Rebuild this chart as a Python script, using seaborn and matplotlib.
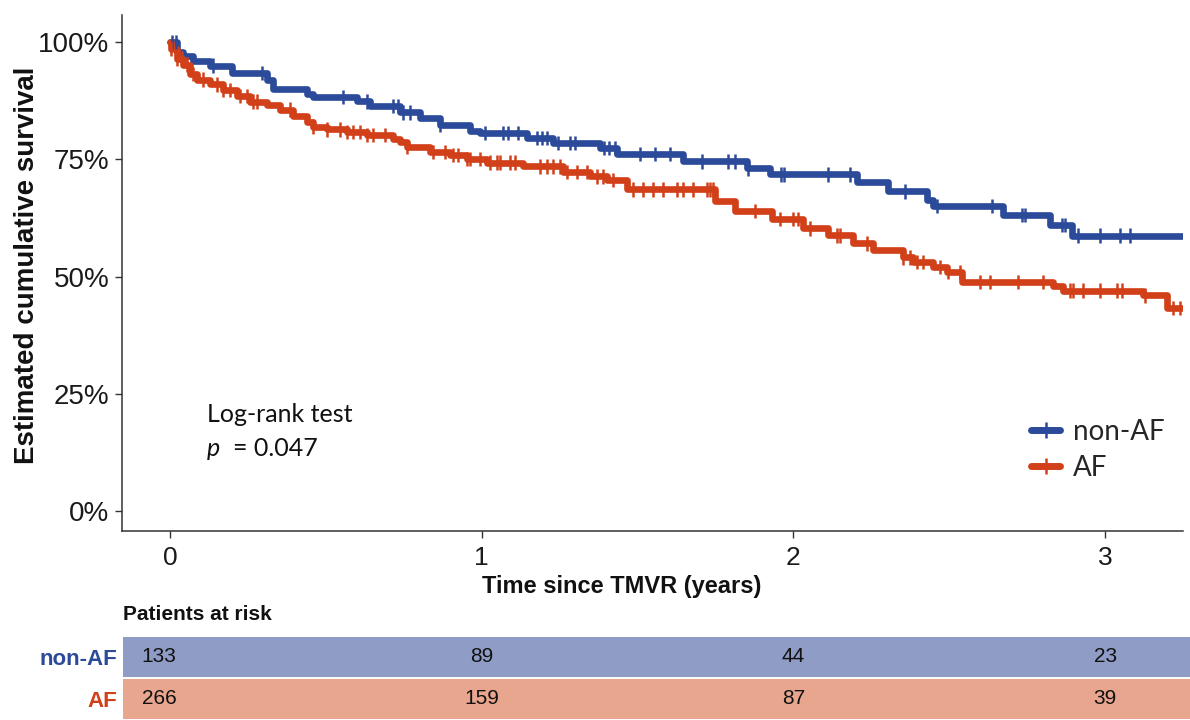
import numpy as np
import pandas as pd
import matplotlib
matplotlib.use("Agg")
import matplotlib.pyplot as plt
import seaborn as sns
from matplotlib.lines import Line2D
from matplotlib import font_manager as fm
from matplotlib.transforms import offset_copy

# ---------------- data ----------------
groups = ["non-AF", "AF"]

nonaf_times = [0.0, 0.022, 0.042, 0.074, 0.128, 0.199, 0.311, 0.330, 0.440, 0.459,
               0.600, 0.642, 0.738, 0.802, 0.866, 0.962, 0.995, 1.145, 1.229, 1.380,
               1.434, 1.646, 1.851, 1.925, 2.204, 2.303, 2.429, 2.448, 2.672, 2.823, 2.894]
nonaf_surv = [100.0, 98.0, 97.0, 96.0, 95.0, 93.4, 92.0, 90.0, 89.0, 88.3,
              87.4, 86.4, 85.0, 83.8, 82.3, 81.0, 80.6, 79.6, 78.5, 77.4,
              76.1, 74.6, 73.1, 71.8, 70.1, 68.2, 66.3, 65.0, 63.1, 61.0, 58.7]

af_times = [0.0, 0.003, 0.022, 0.042, 0.064, 0.087, 0.128, 0.170, 0.215, 0.257,
            0.311, 0.353, 0.395, 0.440, 0.459, 0.504, 0.568, 0.632, 0.715, 0.738,
            0.760, 0.834, 0.898, 0.953, 1.017, 1.133, 1.261, 1.347, 1.402, 1.466,
            1.748, 1.813, 1.931, 2.031, 2.111, 2.191, 2.255, 2.352, 2.384, 2.448,
            2.493, 2.541, 2.833, 2.865, 3.122, 3.199]
af_surv = [100.0, 98.5, 96.5, 95.2, 93.2, 92.0, 91.0, 89.8, 88.5, 87.3,
           86.6, 85.6, 84.3, 83.0, 82.0, 81.4, 80.8, 80.2, 79.3, 78.7,
           77.6, 76.6, 75.9, 75.1, 74.3, 73.5, 72.3, 71.4, 70.6, 68.6,
           66.1, 64.0, 62.3, 60.3, 58.8, 57.1, 55.7, 54.1, 53.1, 52.0,
           51.0, 48.8, 48.0, 47.0, 46.0, 43.3]

nonaf_censor = [0.006, 0.019, 0.138, 0.295, 0.555, 0.632, 0.715, 0.731, 0.748, 0.770,
                0.866, 1.011, 1.068, 1.084, 1.116, 1.177, 1.193, 1.209, 1.245, 1.283,
                1.299, 1.392, 1.408, 1.428, 1.508, 1.556, 1.604, 1.707, 1.790, 1.813,
                1.854, 1.960, 1.970, 2.111, 2.182, 2.358, 2.461, 2.637, 2.733, 2.743,
                2.862, 2.871, 2.913, 2.984, 3.048, 3.080]
af_censor = [0.003, 0.022, 0.038, 0.055, 0.074, 0.106, 0.151, 0.170, 0.193, 0.225,
             0.247, 0.266, 0.279, 0.385, 0.459, 0.504, 0.545, 0.568, 0.587, 0.610,
             0.632, 0.651, 0.690, 0.760, 0.844, 0.882, 0.908, 0.924, 0.953, 0.963,
             0.995, 1.027, 1.049, 1.059, 1.091, 1.107, 1.187, 1.210, 1.229, 1.251,
             1.274, 1.306, 1.338, 1.370, 1.389, 1.421, 1.485, 1.517, 1.550, 1.582,
             1.627, 1.646, 1.678, 1.723, 1.732, 1.742, 1.877, 1.957, 1.999, 2.015,
             2.053, 2.140, 2.150, 2.236, 2.352, 2.374, 2.397, 2.416, 2.470, 2.496,
             2.535, 2.599, 2.631, 2.721, 2.801, 2.887, 2.897, 2.929, 2.984, 3.038,
             3.054, 3.128, 3.218, 3.240]

t_end = 3.25
risk_times = [0, 1, 2, 3]
risk_nonaf = [133, 89, 44, 23]
risk_af = [266, 159, 87, 39]
x_ticks = [0, 1, 2, 3]
y_ticks = [0, 25, 50, 75, 100]
y_ticklabels = ["0%", "25%", "50%", "75%", "100%"]

colors = {"non-AF": "#2C4A9A", "AF": "#D2401A"}
band_colors = {"non-AF": "#8F9CC6", "AF": "#E8A68E"}

# ---------------- fonts ----------------
sns.set_theme(style="white")
avail = {f.name for f in fm.fontManager.ttflist}
arial = "Liberation Sans"
narrow = "Liberation Sans Narrow" if "Liberation Sans Narrow" in avail else "Liberation Sans"
calib = "Lato" if "Lato" in avail else "DejaVu Sans"
plt.rcParams["font.family"] = [arial, "DejaVu Sans"]

# ---------------- frames ----------------
series = {"non-AF": (nonaf_times, nonaf_surv, nonaf_censor),
          "AF": (af_times, af_surv, af_censor)}
rows, crow = [], []
for g, (t, s, c) in series.items():
    tt = list(t) + [t_end]
    ss = list(s) + [s[-1]]
    for a, b in zip(tt, ss):
        rows.append({"time": a, "surv": b, "group": g})
    ta = np.asarray(t)
    for ct in c:
        idx = np.searchsorted(ta, ct, side="right") - 1
        crow.append({"time": ct, "surv": s[idx], "group": g})
df = pd.DataFrame(rows)
cdf = pd.DataFrame(crow)

W, H = 1190, 720
fig = plt.figure(figsize=(W / 100, H / 100), dpi=100)
ax = fig.add_axes([122 / W, 1 - 531 / H, (1183 - 122) / W, (531 - 15) / H])

sns.lineplot(data=df, x="time", y="surv", hue="group", hue_order=groups,
             palette=colors, estimator=None, sort=False, drawstyle="steps-post",
             linewidth=4.8, legend=False, ax=ax, zorder=2)
sns.scatterplot(data=cdf, x="time", y="surv", hue="group", hue_order=groups,
                palette=colors, marker="|", s=110, linewidth=1.8,
                legend=False, ax=ax, zorder=3)

xlim = (-0.154, 3.25)
ax.set_xlim(*xlim)
ax.set_ylim(-4.3, 105.8)
ax.set_xticks(x_ticks)
ax.set_xticklabels([str(v) for v in x_ticks], fontsize=19, family=narrow, color="#1a1a1a")
ax.set_yticks(y_ticks)
ax.set_yticklabels(y_ticklabels, fontsize=20, family=arial, color="#1a1a1a")
ax.tick_params(axis="both", which="both", direction="out", length=5, width=1,
               color="#333333", bottom=True, left=True)
ax.tick_params(axis="x", pad=6)
ax.tick_params(axis="y", pad=4)
for sp in ["top", "right"]:
    ax.spines[sp].set_visible(False)
for sp in ["left", "bottom"]:
    ax.spines[sp].set_color("#333333")
    ax.spines[sp].set_linewidth(1.1)
ax.set_xlabel("Time since TMVR (years)", fontsize=17, fontweight="bold",
              family=narrow, color="#111111")
ax.xaxis.set_label_coords((622 - 122) / 1061, -(587 - 531) / 516)
ax.xaxis.label.set_va("center")
ax.set_ylabel("Estimated cumulative survival", fontsize=20, fontweight="bold",
              family=arial, color="#111111")
ax.yaxis.set_label_coords(-(122 - 27) / 1061, (531 - 265) / 516)
ax.yaxis.label.set_va("center")

# annotation
ax.text((207 - 122) / 1061, (531 - 414) / 516, "Log-rank test", transform=ax.transAxes,
        fontsize=18, family=calib, va="center", ha="left", color="#111111")
ax.text((207 - 122) / 1061, (531 - 448) / 516, "p", transform=ax.transAxes,
        fontsize=18, family=calib, style="italic", va="center", ha="left", color="#111111")
ax.text((233 - 122) / 1061, (531 - 448) / 516, "= 0.047", transform=ax.transAxes,
        fontsize=18, family=calib, va="center", ha="left", color="#111111")

# legend
handles = [Line2D([], [], color=colors[g], lw=5, marker="|", markersize=12,
                  markeredgewidth=1.8) for g in groups]
leg = fig.legend(handles, groups, loc="upper left",
                 bbox_to_anchor=(1031 / W, 1 - 419 / H), frameon=False,
                 borderpad=0, borderaxespad=0, handlelength=1.05, handletextpad=0.45,
                 labelspacing=0.35, prop={"family": calib, "size": 20})

# ---------------- risk table ----------------
fig.text(123 / W, 1 - 615 / H, "Patients at risk", fontsize=15, fontweight="bold",
         family=narrow, va="center", ha="left", color="#111111")

ax_t = fig.add_axes([123 / W, 0, 1 - 123 / W, (720 - 636) / H])
px_per = (1183 - 122) / (xlim[1] - xlim[0])
tx0 = xlim[0] + (123 - 122) / px_per
tx1 = xlim[0] + (W - 122) / px_per
ax_t.set_xlim(tx0, tx1)
ax_t.set_ylim(1.5, -0.5)
for i, g in enumerate(groups):
    ax_t.barh(i, tx1 - tx0, left=tx0, height=0.95, color=band_colors[g], linewidth=0)
risk = {"non-AF": risk_nonaf, "AF": risk_af}
first_tr = offset_copy(ax_t.transData, fig=fig, x=-11, y=0, units="dots")
for i, g in enumerate(groups):
    for j, (t, n) in enumerate(zip(risk_times, risk[g])):
        ax_t.text(t, i, str(n), transform=first_tr if j == 0 else ax_t.transData,
                  ha="center", va="center", fontsize=15, family=narrow, color="#111111")
ax_t.set_xticks([])
ax_t.set_yticks([0, 1])
ax_t.set_yticklabels(groups, fontsize=16, fontweight="bold", family=narrow)
for lab, g in zip(ax_t.get_yticklabels(), groups):
    lab.set_color(colors[g])
ax_t.tick_params(axis="y", length=0, pad=4)
for sp in ax_t.spines.values():
    sp.set_visible(False)
ax_t.patch.set_alpha(0)

fig.savefig("out.png", dpi=100)
